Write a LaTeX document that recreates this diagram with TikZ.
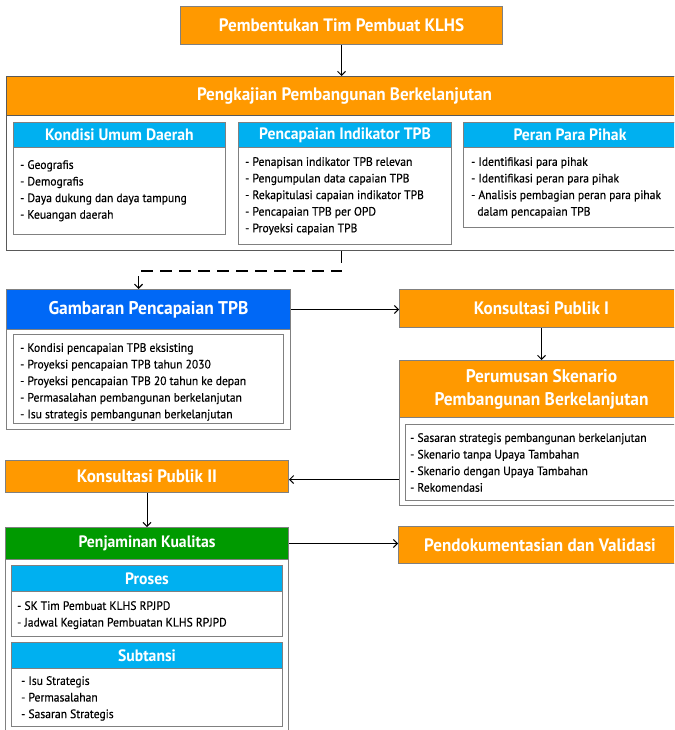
\documentclass[tikz,border=0pt]{standalone}
\usepackage{fontspec}
\setmainfont{PT Sans}[FakeStretch=0.95]
\newfontfamily\bodyf{PT Sans}[FakeStretch=0.95, FakeBold=0.35]
\usetikzlibrary{arrows.meta}
\definecolor{org}{HTML}{FF9900}
\definecolor{lblue}{HTML}{00B0F0}
\definecolor{dblue}{HTML}{0068F6}
\definecolor{grn}{HTML}{009A00}
\definecolor{bord}{HTML}{808080}
\definecolor{dbord}{HTML}{595959}
\tikzset{
  box/.style={draw=bord, line width=1pt, anchor=north west, inner sep=0pt, fill=white},
  hdr/.style={box, text=white, font=\bfseries\fontsize{18}{23}\selectfont, align=center},
  shdr/.style={box, fill=lblue, text=white, font=\bfseries\fontsize{16.5}{20}\selectfont, align=center},
  lst/.style={anchor=north west, inner sep=0pt, align=left, font=\bodyf\fontsize{12.2}{16.6}\selectfont},
  arr/.style={-{Straight Barb[length=4pt,width=8pt]}, line width=1pt},
}
\begin{document}
\begin{tikzpicture}[x=1pt,y=-1pt]
\useasboundingbox (0,0) rectangle (674,730);
\clip (0,0) rectangle (674,730);
% top
\node[hdr, fill=org, minimum width=322, minimum height=38] (top) at (180,6) {Pembentukan Tim Pembuat KLHS};
% pengkajian
\node[box, draw=dbord, minimum width=676, minimum height=174] (pko) at (6,76) {};
\node[hdr, fill=org, draw=dbord, minimum width=676, minimum height=39] (pkh) at (6,76) {Pengkajian Pembangunan Berkelanjutan};
\node[box, minimum width=212, minimum height=112] (kdo) at (13,122) {};
\node[shdr, minimum width=212, minimum height=25] (kdh) at (13,122) {Kondisi Umum Daerah};
\node[lst] (kdl) at (20,160) {- Geografis\\- Demografis\\- Daya dukung dan daya tampung\\- Keuangan daerah};
\node[box, minimum width=213, minimum height=122] (pio) at (238,122) {};
\node[shdr, minimum width=213, minimum height=25] (pih) at (238,122) {Pencapaian Indikator TPB};
\node[lst] (pil) at (245,157) {- Penapisan indikator TPB relevan\\- Pengumpulan data capaian TPB\\- Rekapitulasi capaian indikator TPB\\- Pencapaian TPB per OPD\\- Proyeksi capaian TPB};
\node[box, minimum width=213, minimum height=105] (ppo) at (463,122) {};
\node[shdr, minimum width=213, minimum height=25] (pph) at (463,122) {Peran Para Pihak};
\node[lst] (ppl) at (471,157) {- Identifikasi para pihak\\- Identifikasi peran para pihak\\- Analisis pembagian peran para pihak\\\ \ dalam pencapaian TPB};
% gambaran
\node[box, minimum width=284, minimum height=140] (gbo) at (6,289) {};
\node[hdr, fill=dblue, minimum width=284, minimum height=40, font=\bfseries\fontsize{18.4}{23}\selectfont] (gbh) at (6,289) {Gambaran Pencapaian TPB};
\node[box, minimum width=270, minimum height=89] (gbi) at (13,334) {};
\node[lst] (gbl) at (20,343) {- Kondisi pencapaian TPB eksisting\\- Proyeksi pencapaian TPB tahun 2030\\- Proyeksi pencapaian TPB 20 tahun ke depan\\- Permasalahan pembangunan berkelanjutan\\- Isu strategis pembangunan berkelanjutan};
% konsultasi publik I
\node[hdr, fill=org, minimum width=284, minimum height=38] (kp1) at (399,289) {Konsultasi Publik I};
% perumusan
\node[box, minimum width=284, minimum height=145] (pro) at (399,360) {};
\node[hdr, fill=org, minimum width=284, minimum height=57, font=\bfseries\fontsize{18.3}{23}\selectfont] (prh) at (399,360) {Perumusan Skenario\\Pembangunan Berkelanjutan};
\node[box, minimum width=278, minimum height=76] (pri) at (405,424) {};
\node[lst] (prl) at (410,433) {- Sasaran strategis pembangunan berkelanjutan\\- Skenario tanpa Upaya Tambahan\\- Skenario dengan Upaya Tambahan\\- Rekomendasi};
% konsultasi publik II
\node[hdr, fill=org, minimum width=283, minimum height=32] (kp2) at (5,460) {Konsultasi Publik II};
% penjaminan
\node[box, minimum width=283, minimum height=210] (pjo) at (5,527) {};
\node[hdr, fill=grn, minimum width=283, minimum height=32, font=\bfseries\fontsize{16.5}{20}\selectfont] (pjh) at (5,527) {Penjaminan Kualitas};
\node[box, minimum width=271, minimum height=71] (pso) at (11,565) {};
\node[shdr, minimum width=271, minimum height=26] (psh) at (11,565) {Proses};
\node[lst] (psl) at (17,601) {- SK Tim Pembuat KLHS RPJPD\\- Jadwal Kegiatan Pembuatan KLHS RPJPD};
\node[box, minimum width=271, minimum height=84] (sbo) at (11,642) {};
\node[shdr, minimum width=271, minimum height=26] (sbh) at (11,642) {Subtansi};
\node[lst] (sbl) at (21,676) {- Isu Strategis\\- Permasalahan\\- Sasaran Strategis};
% pendokumentasian
\node[hdr, fill=org, minimum width=283, minimum height=37] (pd) at (398,526) {Pendokumentasian dan Validasi};
% connectors
\draw[arr] (top.south) -- (top.south |- pkh.north);
\draw[arr, dash pattern=on 12pt off 7pt, line width=1.2pt] (top.south |- pko.south) -- ++(0,20) -| ([xshift=-10pt]gbh.north);
\draw[arr] (gbh.east) -- (gbh.east -| kp1.west);
\draw[arr] (kp1.south) -- (prh.north);
\draw[arr] ([yshift=-3pt]kp2.east -| pro.west) -- ([yshift=-3pt]kp2.east);
\draw[arr] (kp2.south) -- (pjh.north);
\draw[arr] (pjh.east) -- (pjh.east -| pd.west);
\end{tikzpicture}
\end{document}
